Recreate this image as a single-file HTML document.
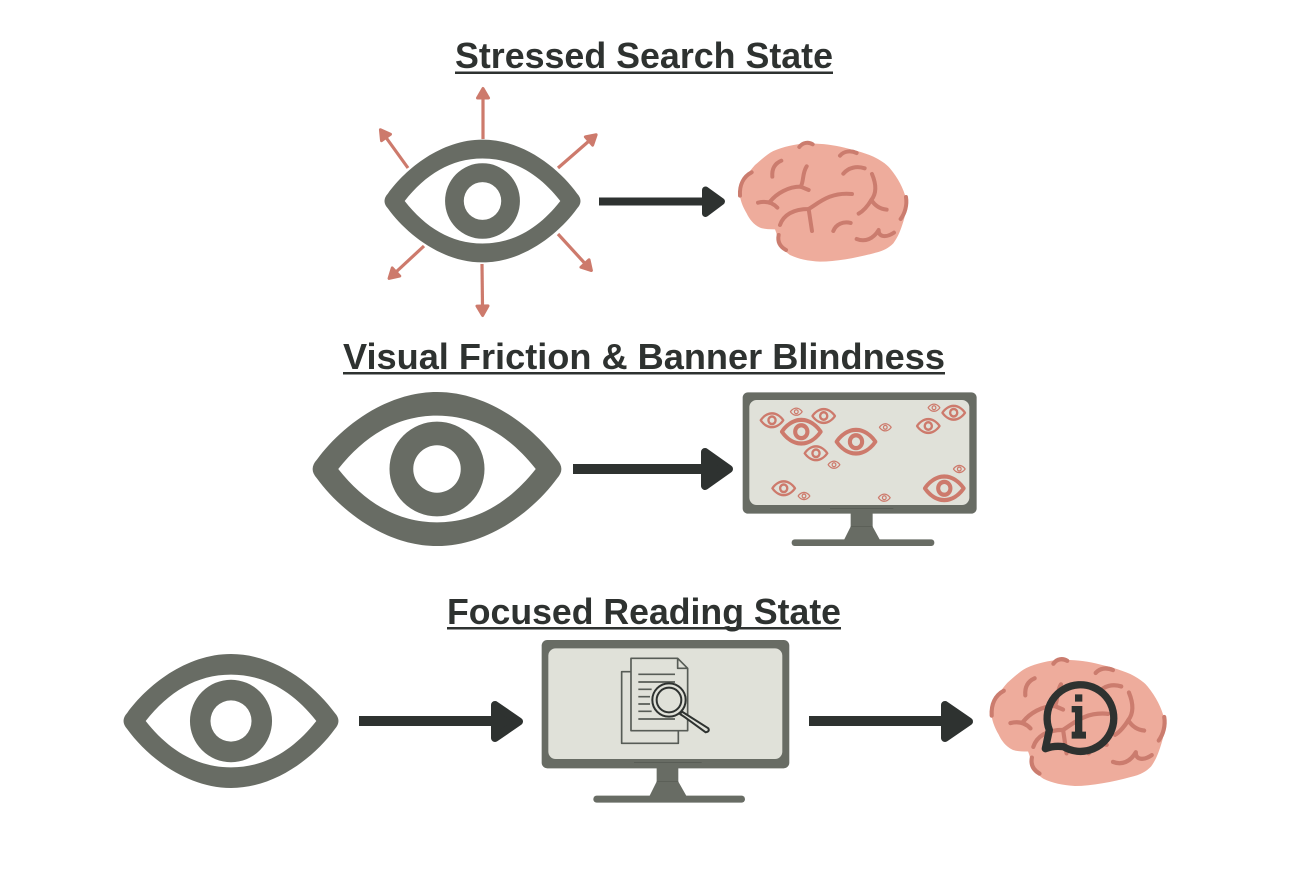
<!DOCTYPE html>
<html><head><meta charset="utf-8"><style>
html,body{margin:0;padding:0;background:#fff}
svg{display:block}
text{font-family:"Liberation Sans",sans-serif;font-weight:bold;font-size:36px;fill:#2e3230}
</style></head><body>
<svg width="1314" height="872" viewBox="0 0 1314 872" xmlns="http://www.w3.org/2000/svg">
<defs>
<path id="eyeo" fill-rule="evenodd" d="M-96,-8 C-78,-34 -42,-65 0,-65 C42,-65 78,-34 96,-8 Q103,0 96,8 C78,34 42,65 0,65 C-42,65 -78,34 -96,8 Q-103,0 -96,-8 Z M-79,0 C-58,28 -32,45 0,45 C32,45 58,28 79,0 C58,-28 32,-45 0,-45 C-32,-45 -58,-28 -79,0 Z"/>
<g id="eye">
<use href="#eyeo"/>
<path fill-rule="evenodd" d="M-38,0 A38,40 0 1 0 38,0 A38,40 0 1 0 -38,0 Z M-19,0 A19,20 0 1 1 19,0 A19,20 0 1 1 -19,0 Z"/>
</g>
<g id="brain">
<path fill="#eeac9c" d="M28,170 C36,140 55,112 75,90 C92,76 110,58 130,48 C160,35 195,27 230,25 C265,25 300,28 330,35 C365,43 400,52 430,65 C450,75 467,85 480,100 C505,130 520,160 528,190 C530,215 527,238 520,260 C512,285 505,305 490,325 C470,345 450,350 430,355 C380,368 320,380 270,380 C235,378 205,372 180,360 C165,350 152,337 145,320 C142,305 140,295 135,283 C115,283 100,282 90,278 C70,268 58,252 50,235 C38,215 30,195 28,170 Z"/>
<g fill="none" stroke="#cb7c6e" stroke-width="12" stroke-linecap="round" stroke-linejoin="round">
<path d="M30,182 C28,150 40,125 65,112"/>
<path d="M208,36 C218,22 235,20 248,28"/>
<path d="M330,62 C342,48 362,46 380,54"/>
<path d="M127,125 C125,100 135,85 154,77"/>
<path d="M340,116 C355,98 380,92 404,100"/>
<path d="M230,94 C216,115 222,140 212,155"/>
<path d="M120,200 C140,175 175,155 212,155 L236,165"/>
<path d="M84,203 C105,198 125,200 142,218"/>
<path d="M150,270 C160,240 190,222 236,222 C265,205 300,170 366,177"/>
<path d="M236,222 L246,288"/>
<path d="M426,117 C440,150 440,175 424,195 C415,210 400,228 386,236"/>
<path d="M424,195 C435,212 450,222 470,224"/>
<path d="M310,288 C318,268 340,258 362,264"/>
<path d="M380,312 C405,322 430,312 446,285 C445,308 470,308 492,293"/>
<path d="M528,186 C532,210 525,235 512,252"/>
<path d="M146,300 C142,320 150,335 168,345"/>
</g>
</g>
<marker id="ph" markerUnits="userSpaceOnUse" markerWidth="18" markerHeight="18" refX="2" refY="9" orient="auto">
<path d="M2,3.500 L11.500,9 L2,14.500 Z" fill="#cd7a6c" stroke="#cd7a6c" stroke-width="3" stroke-linejoin="round"/>
</marker>
</defs>

<!-- Titles -->
<text x="455" y="68" textLength="378" lengthAdjust="spacingAndGlyphs">Stressed Search State</text>
<rect x="455" y="71.500" width="378" height="2.500" fill="#2e3230"/>
<text x="343" y="369" textLength="602" lengthAdjust="spacingAndGlyphs">Visual Friction &amp; Banner Blindness</text>
<rect x="343" y="372" width="602" height="2.500" fill="#2e3230"/>
<text x="447" y="624" textLength="394" lengthAdjust="spacingAndGlyphs">Focused Reading State</text>
<rect x="447" y="627" width="394" height="2.500" fill="#2e3230"/>

<!-- Row 1 pink arrows -->
<g stroke="#cd7a6c" stroke-width="3.200" fill="none">
<line x1="483" y1="139" x2="483" y2="98" marker-end="url(#ph)"/>
<line x1="408" y1="168" x2="386" y2="137.500" marker-end="url(#ph)"/>
<line x1="558" y1="168" x2="589" y2="141" marker-end="url(#ph)"/>
<line x1="558" y1="234" x2="585" y2="263.500" marker-end="url(#ph)"/>
<line x1="424" y1="246" x2="396" y2="272" marker-end="url(#ph)"/>
<line x1="482" y1="264" x2="482.500" y2="306" marker-end="url(#ph)"/>
</g>

<!-- Eyes -->
<g fill="#686c64">
<use href="#eye" transform="translate(482.500,201) scale(.985,.945)"/>
<use href="#eye" transform="translate(437,469) scale(1.250,1.185)"/>
<use href="#eye" transform="translate(231,721) scale(1.080,1.030)"/>
</g>

<!-- Dark arrows -->
<g fill="#2e3230" stroke="#2e3230" stroke-linejoin="round">
<path stroke="none" d="M599,197.500 H706 V205.500 H599 Z"/>
<path stroke-width="7" d="M705.500,190 L721.500,201.500 L705.500,213.500 Z"/>
<path stroke="none" d="M573,464 H706 V474 H573 Z"/>
<path stroke-width="8" d="M705,452 L729,469 L705,486 Z"/>
<path stroke="none" d="M359,716 H495 V726 H359 Z"/>
<path stroke-width="8" d="M495,705 L519,721.500 L495,738 Z"/>
<path stroke="none" d="M809,716 H945 V726 H809 Z"/>
<path stroke-width="8" d="M945,705 L969,721.500 L945,738 Z"/>
</g>

<!-- Brain 1 -->
<use href="#brain" transform="translate(730,135) scale(.3333)"/>

<!-- Monitor 1 -->
<g transform="translate(730,385) scale(.3333)">
<path d="M362,380 H428 V425 L450,465 H342 L362,425 Z" fill="#686c64"/>
<path d="M362,424 H428" stroke="#565a52" stroke-width="2"/>
<rect x="185" y="463" width="428" height="20" rx="9" fill="#686c64"/>
<rect x="38" y="22" width="702" height="364" rx="16" fill="#686c64"/>
<rect x="58" y="45" width="660" height="315" rx="22" fill="#e0e1d9"/>
<path d="M300,370 H490" stroke="#50544d" stroke-width="2"/>
</g>
<g fill="#cd7a6c">
<use href="#eye" transform="translate(772,420.300) scale(.125)"/>
<use href="#eye" transform="translate(796.300,411.700) scale(.065)"/>
<use href="#eye" transform="translate(823.700,416) scale(.125)"/>
<use href="#eye" transform="translate(801.300,431.700) scale(.215)"/>
<use href="#eye" transform="translate(856,441.700) scale(.215)"/>
<use href="#eye" transform="translate(816,453.300) scale(.125)"/>
<use href="#eye" transform="translate(834,464.700) scale(.065)"/>
<use href="#eye" transform="translate(885.300,427.300) scale(.065)"/>
<use href="#eye" transform="translate(934,407.700) scale(.065)"/>
<use href="#eye" transform="translate(953.700,412.700) scale(.125)"/>
<use href="#eye" transform="translate(928.300,426) scale(.125)"/>
<use href="#eye" transform="translate(959.300,469) scale(.065)"/>
<use href="#eye" transform="translate(944.300,488.300) scale(.215)"/>
<use href="#eye" transform="translate(783.700,488.300) scale(.125)"/>
<use href="#eye" transform="translate(804,496) scale(.065)"/>
<use href="#eye" transform="translate(884.300,497.700) scale(.065)"/>
</g>

<!-- Monitor 2 -->
<g transform="translate(530,635) scale(.3333)">
<path d="M380,395 H445 V440 L470,484 H358 L380,440 Z" fill="#686c64"/>
<path d="M380,439 H445" stroke="#565a52" stroke-width="2"/>
<rect x="190" y="482" width="455" height="21" rx="10" fill="#686c64"/>
<rect x="35" y="15" width="743" height="385" rx="17" fill="#686c64"/>
<rect x="55" y="40" width="702" height="332" rx="22" fill="#e0e1d9"/>
<path d="M312,382 H515" stroke="#50544d" stroke-width="2"/>
<g fill="none" stroke="#575c56" stroke-width="5" stroke-linejoin="round">
<path d="M303,110 H275 V325 H445 V287"/>
<path d="M303,70 H443 L473,100 V287 H303 Z" fill="#e0e1d9"/>
<path d="M443,70 V100 H473"/>
</g>
<g stroke="#575c56" stroke-width="5">
<path d="M325,118 H435 M325,141 H435 M325,163 H365 M325,185 H360 M325,207 H360 M325,229 H365 M325,252 H435"/>
</g>
<circle cx="417" cy="195" r="50" fill="#e0e1d9" stroke="#2e3230" stroke-width="6"/>
<circle cx="417" cy="195" r="37" fill="#e0e1d9" stroke="#2e3230" stroke-width="6"/>
<path d="M456,230 L472,240 L535,280 Q540,290 527,292 L465,247 L450,237 Z" fill="#e0e1d9" stroke="#2e3230" stroke-width="6" stroke-linejoin="round"/>
</g>

<!-- Brain 2 with info -->
<use href="#brain" transform="translate(981.300,650.900) scale(.3465,.3556)"/>
<g transform="translate(980,650) scale(.3333)">
<path d="M196,296 L208,240 A100,100 0 1 1 250,290 Q222,286 196,296 Z" fill="none" stroke="#2e3230" stroke-width="22" stroke-linejoin="round"/>
<path d="M285,133 H307 V155 H285 Z M275,168 H307 V245 H318 V266 H275 V245 H285 V187 H275 Z" fill="#2e3230"/>
</g>
</svg>
</body></html>
